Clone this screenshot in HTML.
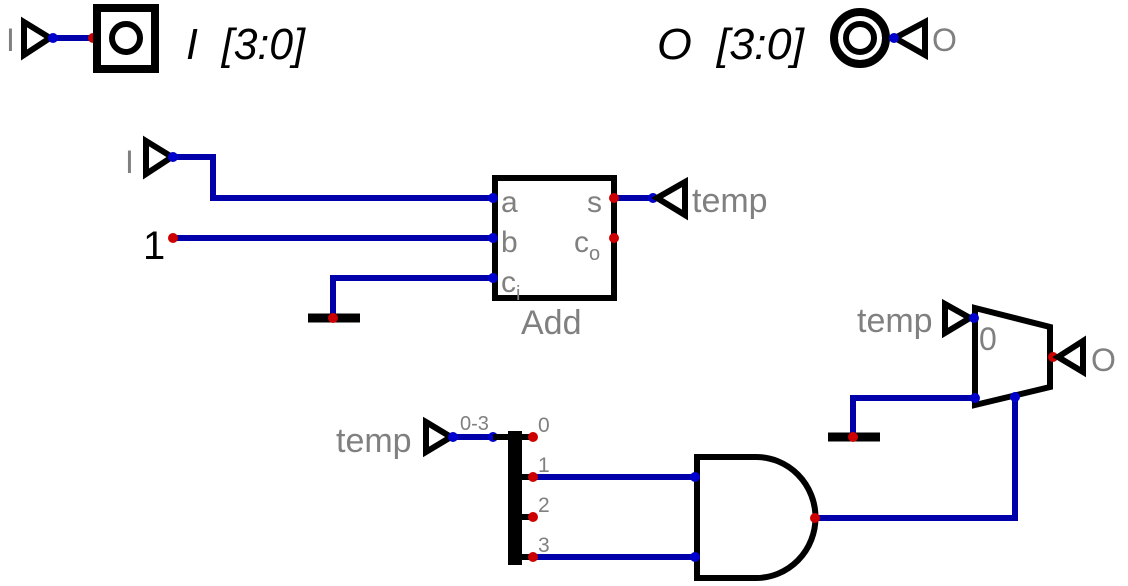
<!DOCTYPE html>
<html><head><meta charset="utf-8"><style>
html,body{margin:0;padding:0;background:#fff;}
svg{display:block;}
text{font-family:"Liberation Sans",sans-serif;}
.g{fill:#808080;}
.w{stroke:#0000aa;stroke-width:6;fill:none;}
.k{stroke:#000;stroke-width:6;fill:none;}
</style></head><body>
<svg width="1128" height="586" viewBox="0 0 1128 586">
<g>
<text x="6" y="51" class="g" font-size="32">I</text>
<polygon points="24,22 50,38 24,55" class="k"/>
<line x1="53" y1="38" x2="93" y2="38" class="w"/>
<circle cx="53" cy="38" r="5" fill="#0000cc"/>
<circle cx="93" cy="38" r="5" fill="#c00"/>
<rect x="97" y="8" width="58" height="61" fill="none" stroke="#000" stroke-width="8"/>
<circle cx="126" cy="38" r="14" fill="none" stroke="#000" stroke-width="6"/>
<text x="186" y="59" font-size="44" font-style="italic" xml:space="preserve" textLength="119" lengthAdjust="spacingAndGlyphs">I  [3:0]</text>
</g>
<g>
<text x="657" y="59" font-size="44" font-style="italic" xml:space="preserve" textLength="147" lengthAdjust="spacingAndGlyphs">O  [3:0]</text>
<circle cx="860" cy="38" r="26" fill="none" stroke="#000" stroke-width="8"/>
<circle cx="860" cy="38" r="14" fill="none" stroke="#000" stroke-width="6"/>
<polygon points="925,22 895,38 925,55" class="k"/>
<circle cx="894" cy="38" r="5" fill="#0000cc"/>
<text x="932" y="51" class="g" font-size="32">O</text>
</g>
<g>
<text x="125" y="173" class="g" font-size="32">I</text>
<polygon points="146,141 172,157 146,174" class="k"/>
</g>
<polyline points="173,157 213,157 213,198 493,198" class="w"/>
<circle cx="173" cy="157" r="5" fill="#0000cc"/>
<text x="143" y="259" font-size="40">1</text>
<line x1="173" y1="238" x2="493" y2="238" class="w"/>
<circle cx="173" cy="238" r="5" fill="#c00"/>
<polyline points="333,318 333,278 493,278" class="w"/>
<line x1="308" y1="318" x2="360" y2="318" stroke="#000" stroke-width="9"/>
<circle cx="333" cy="318" r="5" fill="#c00"/>
<g>
<rect x="495" y="178" width="119" height="120" fill="none" stroke="#000" stroke-width="6"/>
<circle cx="493" cy="198" r="5" fill="#0000cc"/>
<circle cx="493" cy="238" r="5" fill="#0000cc"/>
<circle cx="493" cy="278" r="5" fill="#0000cc"/>
<text x="501" y="212" class="g" font-size="30">a</text>
<text x="501" y="252" class="g" font-size="30">b</text>
<text x="501" y="292" class="g" font-size="30">c<tspan font-size="20" dy="8">i</tspan></text>
<text x="587" y="212" class="g" font-size="30">s</text>
<text x="574" y="252" class="g" font-size="30">c<tspan font-size="20" dy="8">o</tspan></text>
<text x="521" y="334" class="g" font-size="34">Add</text>
<circle cx="614" cy="238" r="5" fill="#c00"/>
</g>
<line x1="614" y1="198" x2="653" y2="198" class="w"/>
<circle cx="614" cy="198" r="5" fill="#c00"/>
<circle cx="653" cy="198" r="5" fill="#0000cc"/>
<g>
<polygon points="685,182 657,198 685,215" class="k"/>
<text x="692" y="212" class="g" font-size="34">temp</text>
</g>
<g>
<text x="857" y="332" class="g" font-size="34">temp</text>
<polygon points="945,304 970,318 945,333" class="k"/>
</g>
<polyline points="853,437 853,398 975,398" class="w"/>
<line x1="828" y1="437" x2="880" y2="437" stroke="#000" stroke-width="9"/>
<circle cx="853" cy="437" r="5" fill="#c00"/>
<polyline points="1015,397 1015,518 815,518" class="w"/>
<g>
<polygon points="975,308 1050,327 1050,387 975,405" class="k"/>
<circle cx="974" cy="318" r="5" fill="#0000cc"/>
<circle cx="975" cy="398" r="5" fill="#0000cc"/>
<circle cx="1015" cy="397" r="5" fill="#0000cc"/>
<text x="979" y="350" class="g" font-size="32">0</text>
<circle cx="1053" cy="357" r="5" fill="#c00"/>
</g>
<g>
<polygon points="1083,341 1058,357 1083,372" class="k"/>
<text x="1091" y="371" class="g" font-size="32">O</text>
</g>
<g>
<text x="336" y="452" class="g" font-size="34">temp</text>
<polygon points="426,422 451,437 426,452" class="k"/>
</g>
<line x1="453" y1="437" x2="493" y2="437" class="w"/>
<circle cx="453" cy="437" r="5" fill="#0000cc"/>
<circle cx="493" cy="437" r="5" fill="#0000cc"/>
<text x="460" y="430" class="g" font-size="20">0-3</text>
<g>
<line x1="493" y1="437" x2="510" y2="437" stroke="#000" stroke-width="6"/>
<rect x="508" y="431" width="14" height="134" fill="#000"/>
<line x1="520" y1="437" x2="533" y2="437" stroke="#000" stroke-width="6"/>
<line x1="520" y1="477" x2="533" y2="477" stroke="#000" stroke-width="6"/>
<line x1="520" y1="517" x2="533" y2="517" stroke="#000" stroke-width="6"/>
<line x1="520" y1="557" x2="533" y2="557" stroke="#000" stroke-width="6"/>
<text x="538" y="432" class="g" font-size="21">0</text>
<text x="538" y="472" class="g" font-size="21">1</text>
<text x="538" y="512" class="g" font-size="21">2</text>
<text x="538" y="552" class="g" font-size="21">3</text>
</g>
<line x1="533" y1="477" x2="695" y2="477" class="w"/>
<line x1="533" y1="557" x2="695" y2="557" class="w"/>
<circle cx="533" cy="437" r="5" fill="#c00"/>
<circle cx="533" cy="477" r="5" fill="#c00"/>
<circle cx="533" cy="517" r="5" fill="#c00"/>
<circle cx="533" cy="557" r="5" fill="#c00"/>
<g>
<path d="M697,457 L756,457 A59,60 0 0 1 756,578 L697,578 Z" class="k"/>
<circle cx="695" cy="477" r="5" fill="#0000cc"/>
<circle cx="695" cy="557" r="5" fill="#0000cc"/>
<circle cx="815" cy="518" r="5" fill="#c00"/>
</g>
</svg>
</body></html>
